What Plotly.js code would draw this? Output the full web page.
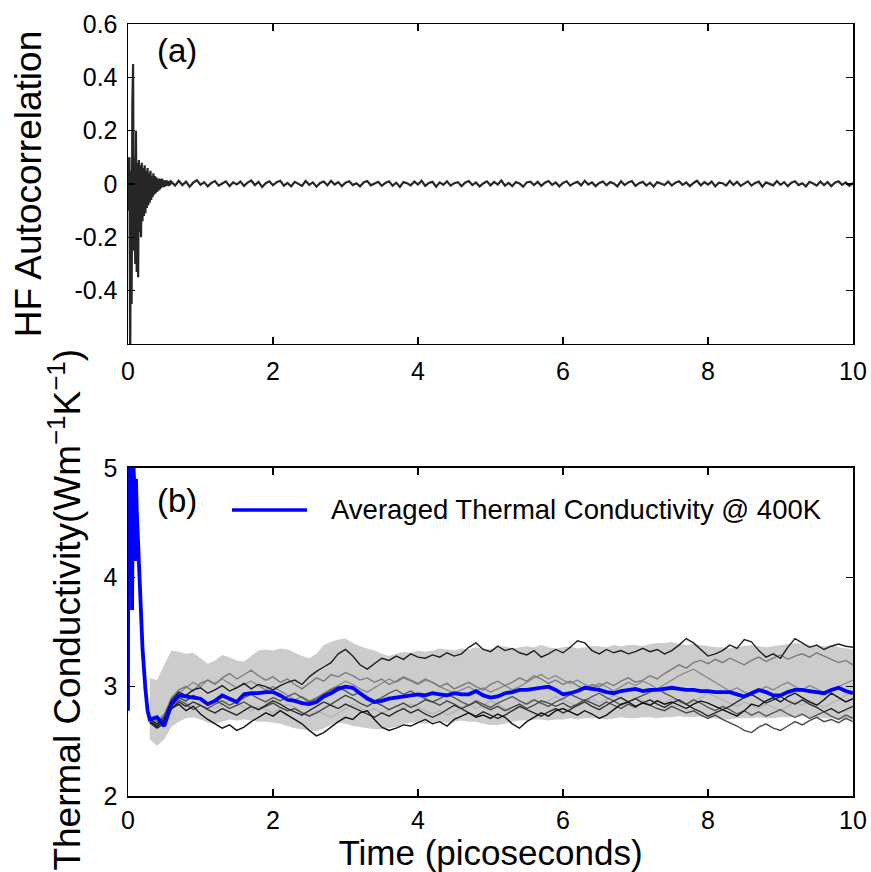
<!DOCTYPE html>
<html><head><meta charset="utf-8">
<script src="https://cdn.plot.ly/plotly-3.0.1.min.js"></script>
<style>html,body{margin:0;padding:0;background:#fff;}#chart{width:871px;height:872px;}</style>
</head><body><div id="chart"></div>
<script>
// ---------- (a) heat-flux autocorrelation ----------
const hfEarlyStep = 0.01;   // t = 0 .. 0.59
const hfEarly = [0.10,-0.10,0.10,-0.70,0.05,-0.45,0.30,0.45,-0.25,0.10,
  -0.30,0.20,-0.33,0.08,-0.35,0.09,-0.18,0.07,-0.20,0.08,
  -0.14,0.06,-0.12,0.07,-0.11,0.05,-0.09,0.06,-0.08,0.04,
  -0.07,0.05,-0.06,0.03,-0.05,0.04,-0.04,0.03,-0.035,0.025,
  -0.03,0.02,-0.025,0.02,-0.02,0.018,-0.015,0.02,-0.01,0.015,
  -0.012,0.012,-0.008,0.014,-0.006,0.01,-0.008,0.012,-0.005,0.01];
const hfTailStart = 0.6, hfTailStep = 0.05;  // t = 0.6 .. 10
const hfTail = [
  .008,-.006,.012,-.004,.009,-.010,.005,.014,-.003,.007,-.009,.004,.011,-.006,.002,.010,-.008,.006,-.002,.009,
  -.007,.005,.013,-.004,.008,-.011,.003,.010,-.005,.007,.012,-.006,.004,-.009,.008,.002,-.007,.011,-.003,.006,
  -.010,.004,.009,-.005,.012,-.002,.007,-.008,.005,.010,-.004,.003,-.009,.006,.011,-.005,.002,.008,-.007,.004,
  .010,-.006,.005,-.011,.007,.003,-.005,.009,-.002,.012,-.007,.004,.008,-.010,.006,-.003,.010,-.006,.003,.007,
  -.008,.005,.011,-.004,.006,-.009,.002,.010,-.005,.008,-.002,.013,-.006,.004,-.008,.007,.002,-.010,.006,.009,
  -.004,.008,-.007,.005,.011,-.003,.006,-.009,.004,.010,-.006,.003,.008,-.005,.012,-.002,.006,-.008,.004,.009,
  -.005,.007,.002,-.009,.010,-.004,.006,.011,-.007,.003,.008,-.006,.005,-.010,.007,.002,-.004,.009,-.006,.005,
  .010,-.003,.006,-.008,.004,.012,-.005,.007,-.002,.009,-.009,.005,.003,-.006,.011,-.004,.008,-.007,.002,.010,
  -.006,.004,.009,-.010,.006,.001,-.005,.011,-.003,.007,-.008,.005,.010,-.004,.003,-.009,.008,.002,-.006,.009,
  -.004,.007,-.008,.005,.010,-.003,.006,-.007,.004];

// ---------- (b) thermal conductivity ----------
const blueEarlyT = [0, 0.004, 0.03, 0.05, 0.056, 0.07, 0.085, 0.095, 0.1, 0.11, 0.12, 0.16, 0.2, 0.24, 0.27];
const blueEarly  = [2.78, 5.3, 5.25, 5.1, 3.7, 5.15, 4.85, 4.9, 4.15, 4.9, 4.62, 3.95, 3.35, 2.98, 2.78];
const gridStart = 0.3, gridStep = 0.1;  // t = 0.3 .. 10.0
const blueAvg = [
  2.70,2.72,2.64,2.84,2.92,2.91,2.90,2.89,2.84,2.87,
  2.92,2.89,2.86,2.93,2.94,2.94,2.95,2.95,2.92,2.88,
  2.87,2.85,2.84,2.86,2.91,2.94,2.98,3.00,2.99,2.94,
  2.89,2.86,2.87,2.89,2.90,2.91,2.92,2.93,2.92,2.94,
  2.93,2.92,2.94,2.93,2.93,2.96,2.92,2.90,2.91,2.94,
  2.95,2.97,2.97,2.98,2.99,3.00,2.97,2.93,2.94,2.96,
  2.99,2.98,2.97,2.95,2.94,2.96,2.97,2.98,2.96,2.97,
  2.97,2.98,2.99,2.98,2.97,2.97,2.96,2.96,2.95,2.95,
  2.95,2.93,2.91,2.94,2.97,2.95,2.92,2.92,2.95,2.97,
  2.97,2.96,2.95,2.94,2.97,2.99,2.96,2.94];
const bandUpper = [
  3.08,3.06,3.20,3.33,3.32,3.30,3.31,3.26,3.21,3.24,
  3.29,3.27,3.24,3.23,3.28,3.33,3.34,3.33,3.35,3.34,
  3.31,3.28,3.26,3.30,3.38,3.41,3.43,3.44,3.40,3.37,
  3.35,3.33,3.30,3.28,3.30,3.32,3.31,3.33,3.32,3.33,
  3.35,3.34,3.33,3.35,3.34,3.36,3.35,3.34,3.36,3.37,
  3.35,3.36,3.37,3.36,3.38,3.36,3.35,3.36,3.37,3.35,
  3.36,3.37,3.37,3.36,3.38,3.37,3.38,3.38,3.37,3.39,
  3.40,3.40,3.41,3.39,3.38,3.39,3.38,3.37,3.36,3.36,
  3.35,3.36,3.37,3.38,3.37,3.36,3.37,3.38,3.39,3.40,
  3.39,3.38,3.37,3.37,3.38,3.36,3.35,3.34];
const bandLower = [
  2.52,2.46,2.52,2.63,2.68,2.71,2.72,2.70,2.67,2.66,
  2.68,2.70,2.69,2.70,2.69,2.68,2.68,2.67,2.66,2.64,
  2.62,2.61,2.60,2.59,2.62,2.65,2.67,2.66,2.64,2.63,
  2.62,2.61,2.61,2.62,2.63,2.66,2.67,2.67,2.66,2.67,
  2.68,2.67,2.68,2.69,2.68,2.68,2.66,2.65,2.65,2.66,
  2.68,2.69,2.69,2.70,2.70,2.69,2.70,2.70,2.71,2.70,
  2.71,2.71,2.71,2.70,2.71,2.72,2.71,2.71,2.72,2.72,
  2.71,2.72,2.72,2.73,2.72,2.72,2.73,2.72,2.71,2.70,
  2.70,2.71,2.71,2.71,2.72,2.71,2.71,2.72,2.72,2.72,
  2.73,2.72,2.72,2.71,2.71,2.70,2.70,2.69];
const run1 = [2.70,2.66,2.72,2.88,2.95,2.92,2.97,2.99,2.94,2.97, 3.01,2.96,2.99,3.03,2.98,3.02,3.00,2.97,3.01,3.04,
  3.06,3.02,3.09,3.14,3.18,3.22,3.30,3.34,3.28,3.20, 3.16,3.21,3.26,3.24,3.28,3.25,3.30,3.27,3.26,3.29,
  3.27,3.31,3.28,3.30,3.36,3.40,3.34,3.32,3.37,3.33, 3.35,3.31,3.29,3.33,3.27,3.30,3.34,3.31,3.36,3.42,
  3.40,3.33,3.30,3.34,3.31,3.33,3.30,3.32,3.35,3.32, 3.34,3.30,3.33,3.38,3.44,3.40,3.34,3.28,3.30,3.33,
  3.38,3.35,3.43,3.41,3.33,3.27,3.30,3.26,3.36,3.44, 3.40,3.36,3.38,3.34,3.37,3.39,3.37,3.36];
const run2 = [2.72,2.68,2.74,2.90,2.97,3.00,2.96,3.03,3.06,3.02, 3.08,3.12,3.07,3.11,3.15,3.10,3.06,3.09,3.04,3.07,
  3.02,2.98,3.03,3.08,3.05,3.11,3.09,3.13,3.10,3.06, 3.08,3.04,3.07,3.02,3.05,3.09,3.06,3.03,3.07,3.04,
  3.00,3.03,2.98,3.01,3.04,3.00,2.97,3.02,3.05,3.01, 3.04,3.08,3.05,3.10,3.07,3.03,3.06,3.02,3.05,3.01,
  2.98,3.02,3.00,3.04,3.01,3.05,3.08,3.04,3.06,3.10, 3.07,3.12,3.16,3.20,3.17,3.22,3.24,3.21,3.25,3.22,
  3.26,3.23,3.20,3.24,3.27,3.23,3.26,3.29,3.25,3.28, 3.30,3.27,3.31,3.28,3.25,3.22,3.24,3.20];
const run3 = [2.68,2.63,2.70,2.80,2.84,2.78,2.82,2.75,2.70,2.66, 2.62,2.65,2.60,2.63,2.68,2.72,2.76,2.73,2.78,2.74,
  2.70,2.66,2.60,2.55,2.58,2.63,2.68,2.72,2.70,2.76, 2.78,2.70,2.63,2.60,2.62,2.65,2.64,2.67,2.70,2.66,
  2.68,2.64,2.70,2.73,2.76,2.72,2.74,2.71,2.75,2.72, 2.66,2.62,2.68,2.72,2.76,2.73,2.78,2.80,2.77,2.74,
  2.78,2.75,2.71,2.74,2.79,2.84,2.86,2.82,2.85,2.83, 2.87,2.84,2.86,2.83,2.80,2.84,2.87,2.85,2.82,2.79,
  2.76,2.73,2.78,2.84,2.82,2.87,2.90,2.86,2.91,2.94, 2.90,2.86,2.83,2.88,2.94,2.90,2.86,2.89];
const run4 = [2.71,2.65,2.69,2.84,2.90,2.87,2.92,2.89,2.85,2.88, 2.84,2.80,2.83,2.86,2.82,2.79,2.82,2.85,2.81,2.78,
  2.80,2.76,2.73,2.76,2.80,2.84,2.88,2.92,2.89,2.85, 2.82,2.86,2.83,2.79,2.82,2.85,2.81,2.84,2.88,2.86,
  2.83,2.87,2.84,2.80,2.83,2.86,2.82,2.79,2.82,2.78, 2.81,2.84,2.80,2.83,2.87,2.85,2.82,2.85,2.81,2.84,
  2.88,2.85,2.82,2.86,2.83,2.80,2.84,2.81,2.86,2.83, 2.80,2.78,2.82,2.79,2.76,2.78,2.74,2.71,2.74,2.70,
  2.67,2.64,2.60,2.58,2.63,2.66,2.62,2.60,2.64,2.68, 2.65,2.69,2.72,2.68,2.70,2.67,2.71,2.68];
const run5 = [2.73,2.69,2.75,2.88,2.94,2.99,3.04,3.00,3.06,3.03, 3.07,3.03,2.99,3.02,3.05,3.01,2.97,3.00,2.96,2.92,
  2.88,2.91,2.87,2.90,2.94,2.98,3.01,3.05,3.02,2.98, 2.95,2.99,3.03,3.07,3.04,3.08,3.05,3.02,3.06,3.04,
  3.00,2.97,2.94,2.97,3.00,2.96,2.99,2.95,2.98,3.01, 2.97,3.00,3.04,3.08,3.11,3.07,3.10,3.06,3.03,3.06,
  3.02,2.99,3.03,3.00,2.96,3.00,3.04,3.01,3.05,3.02, 2.98,3.02,3.06,3.10,3.13,3.16,3.12,3.08,3.04,3.00,
  2.96,2.99,2.95,2.92,2.96,3.00,2.97,3.01,3.04,3.00, 2.97,3.01,2.98,2.94,2.97,3.00,3.03,3.06];
const run6 = [2.69,2.66,2.71,2.85,2.90,2.86,2.82,2.86,2.83,2.80, 2.84,2.88,2.85,2.81,2.78,2.82,2.79,2.76,2.80,2.84,
  2.81,2.77,2.74,2.78,2.75,2.72,2.76,2.80,2.84,2.81, 2.77,2.80,2.76,2.79,2.83,2.80,2.84,2.81,2.78,2.75,
  2.78,2.74,2.77,2.81,2.84,2.80,2.83,2.87,2.84,2.80, 2.77,2.81,2.85,2.88,2.84,2.87,2.91,2.88,2.85,2.82,
  2.86,2.89,2.85,2.88,2.92,2.89,2.86,2.90,2.87,2.84, 2.88,2.85,2.89,2.86,2.83,2.87,2.90,2.94,2.91,2.88,
  2.85,2.82,2.86,2.83,2.80,2.84,2.81,2.78,2.82,2.86, 2.83,2.87,2.84,2.81,2.85,2.88,2.92,2.95];
const run7 = [2.70,2.64,2.68,2.82,2.88,2.84,2.79,2.83,2.80,2.84, 2.87,2.83,2.86,2.90,2.93,2.89,2.86,2.90,2.87,2.91,
  2.94,2.90,2.86,2.89,2.93,2.97,3.00,2.96,2.92,2.95, 2.91,2.87,2.90,2.94,2.97,2.93,2.96,2.92,2.89,2.86,
  2.89,2.93,2.90,2.86,2.83,2.87,2.84,2.81,2.85,2.88, 2.91,2.87,2.84,2.88,2.85,2.82,2.86,2.89,2.93,2.90,
  2.87,2.91,2.94,2.90,2.87,2.83,2.86,2.89,2.92,2.95, 2.98,2.94,2.91,2.87,2.84,2.88,2.85,2.81,2.78,2.82,
  2.79,2.75,2.78,2.74,2.77,2.73,2.76,2.79,2.75,2.72, 2.75,2.71,2.74,2.77,2.73,2.70,2.74,2.71];
const run8 = [2.67,2.62,2.66,2.80,2.86,2.82,2.86,2.83,2.79,2.76, 2.80,2.77,2.74,2.78,2.82,2.79,2.83,2.87,2.84,2.80,
  2.77,2.74,2.78,2.82,2.86,2.83,2.80,2.84,2.81,2.78, 2.75,2.72,2.76,2.73,2.77,2.80,2.76,2.79,2.75,2.72,
  2.75,2.79,2.83,2.80,2.76,2.73,2.77,2.74,2.71,2.74, 2.78,2.82,2.79,2.76,2.73,2.77,2.80,2.76,2.79,2.83,
  2.86,2.82,2.79,2.83,2.87,2.90,2.86,2.89,2.85,2.88, 2.84,2.81,2.85,2.88,2.84,2.80,2.77,2.73,2.76,2.79,
  2.82,2.86,2.90,2.93,2.89,2.85,2.88,2.91,2.87,2.84, 2.88,2.84,2.81,2.77,2.80,2.76,2.79,2.82];

const xTicks = [0, 2, 4, 6, 8, 10];
const yTicksTop = [-0.4, -0.2, 0, 0.2, 0.4, 0.6];
const yTickTextTop = ['-0.4', '-0.2', '0', '0.2', '0.4', '0.6'];
const yTicksBottom = [2, 3, 4, 5];
const legendLabel = 'Averaged Thermal Conductivity @ 400K';
const yTitleBottom = 'Thermal Conductivity(Wm<sup>−1</sup>K<sup>−1</sup>)';

// ---------- build ----------
const hfT = hfEarly.map((_, i) => i * hfEarlyStep).concat(hfTail.map((_, i) => hfTailStart + i * hfTailStep));
const hfY = hfEarly.concat(hfTail);
const gridT = blueAvg.map((_, i) => +(gridStart + i * gridStep).toFixed(2));

const FONT = 'Liberation Sans, Arial, Helvetica, sans-serif';
const traces = [];
traces.push({x: hfT, y: hfY, xaxis: 'x', yaxis: 'y', mode: 'lines', line: {color: '#262626', width: 2.2}, hoverinfo: 'skip'});
traces.push({x: gridT, y: bandUpper, xaxis: 'x2', yaxis: 'y2', mode: 'lines', line: {width: 0, color: '#cccccc'}, hoverinfo: 'skip'});
traces.push({x: gridT, y: bandLower, xaxis: 'x2', yaxis: 'y2', mode: 'lines', line: {width: 0, color: '#cccccc'}, fill: 'tonexty', fillcolor: '#cccccc', hoverinfo: 'skip'});
const runs = [[run6, '#b5b5b5'], [run5, '#8c8c8c'], [run2, '#7a7a7a'], [run7, '#5a5a5a'], [run4, '#4a4a4a'], [run8, '#2e2e2e'], [run1, '#1f1f1f'], [run3, '#141414']];
runs.forEach(([vals, col]) => traces.push({x: gridT, y: vals, xaxis: 'x2', yaxis: 'y2', mode: 'lines', line: {color: col, width: 1.4}, hoverinfo: 'skip'}));
traces.push({x: blueEarlyT.concat(gridT), y: blueEarly.concat(blueAvg), xaxis: 'x2', yaxis: 'y2', mode: 'lines', name: legendLabel, line: {color: '#0000ff', width: 3.8}, hoverinfo: 'skip'});

const axisCommon = {showline: true, linecolor: '#000', linewidth: 1.5, mirror: 'ticks', ticks: 'inside', ticklen: 7, tickwidth: 1.2, tickcolor: '#000',
  showgrid: false, zeroline: false, tickfont: {family: FONT, size: 25, color: '#000'}};
const layout = {
  width: 871, height: 872, margin: {l: 128, r: 18, t: 24, b: 76},
  paper_bgcolor: '#fff', plot_bgcolor: '#fff', showlegend: false, font: {family: FONT, color: '#000'},
  xaxis: Object.assign({}, axisCommon, {domain: [0, 1], anchor: 'y', range: [0, 10], tickvals: xTicks, ticklabelstandoff: 5}),
  yaxis: Object.assign({}, axisCommon, {domain: [0.5855, 1], anchor: 'x', range: [-0.6, 0.6], tickvals: yTicksTop, ticktext: yTickTextTop, ticklabelstandoff: 4,
    title: {text: 'HF Autocorrelation', font: {family: FONT, size: 37, color: '#000'}, standoff: 21}}),
  xaxis2: Object.assign({}, axisCommon, {domain: [0, 1], anchor: 'y2', range: [0, 10], tickvals: xTicks, ticklabelstandoff: 1,
    title: {text: 'Time (picoseconds)', font: {family: FONT, size: 35, color: '#000'}, standoff: 2}}),
  yaxis2: Object.assign({}, axisCommon, {domain: [0, 0.4249], anchor: 'x2', range: [2, 5], tickvals: yTicksBottom, ticklabelstandoff: 4}),
  shapes: [{type: 'line', xref: 'paper', yref: 'paper', x0: 0.1434, x1: 0.2469, y0: 0.3705, y1: 0.3705, line: {color: '#0000ff', width: 3.6}}],
  annotations: [
    {text: '(a)', xref: 'paper', yref: 'paper', x: 0.0676, y: 0.9663, xanchor: 'center', yanchor: 'middle', showarrow: false, font: {family: FONT, size: 33, color: '#000'}},
    {text: '(b)', xref: 'paper', yref: 'paper', x: 0.0676, y: 0.3834, xanchor: 'center', yanchor: 'middle', showarrow: false, font: {family: FONT, size: 33, color: '#000'}},
    {text: legendLabel, xref: 'paper', yref: 'paper', x: 0.2772, y: 0.3705, xanchor: 'left', yanchor: 'middle', showarrow: false, font: {family: FONT, size: 27.5, color: '#000'}},
    {text: yTitleBottom, xref: 'paper', yref: 'paper', x: -0.086, y: 0.241, xanchor: 'center', yanchor: 'middle', textangle: -90, showarrow: false, font: {family: FONT, size: 37, color: '#000'}}
  ]
};
Plotly.newPlot('chart', traces, layout, {staticPlot: true, displayModeBar: false});
</script></body></html>
